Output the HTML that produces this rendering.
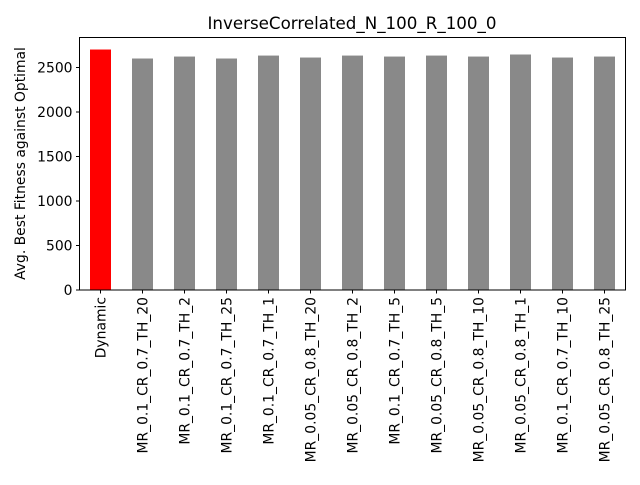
<!DOCTYPE html>
<html><head><meta charset="utf-8"><style>
body{margin:0;background:#fff;}
svg text{font-family:"DejaVu Sans","Liberation Sans",sans-serif;}
</style></head><body>
<svg id="chart" width="640" height="480" xmlns="http://www.w3.org/2000/svg">
<rect width="640" height="480" fill="#fff"/>
<text x="352" y="29" font-size="16.7" text-anchor="middle">InverseCorrelated_N_100_R_100_0</text>
<text transform="translate(25,163.5) rotate(-90)" font-size="13.9" text-anchor="middle">Avg. Best Fitness against Optimal</text>
<g id="bars"></g><g id="yt"></g><g id="xt"></g>
<rect x="79.5" y="37.5" width="546" height="252.5" fill="none" stroke="#000" stroke-width="1"/>
</svg>
<script>
const categories=["Dynamic","MR_0.1_CR_0.7_TH_20","MR_0.1_CR_0.7_TH_2","MR_0.1_CR_0.7_TH_25","MR_0.1_CR_0.7_TH_1","MR_0.05_CR_0.8_TH_20","MR_0.05_CR_0.8_TH_2","MR_0.1_CR_0.7_TH_5","MR_0.05_CR_0.8_TH_5","MR_0.05_CR_0.8_TH_10","MR_0.05_CR_0.8_TH_1","MR_0.1_CR_0.7_TH_10","MR_0.05_CR_0.8_TH_25"];
const values=[2702,2601,2623,2601,2634,2612,2634,2623,2634,2623,2646,2612,2623];
const yTicks=[0,500,1000,1500,2000,2500];
const NS="http://www.w3.org/2000/svg";
const L=79.5,R=625.5,T=37.5,B=290;
const yMax=Math.max(...values)*1.05;
const y=v=>B-(v/yMax)*(B-T);
const step=(R-L)/categories.length;
const x=i=>L+step*(i+0.5);
function mk(t,a,p){const e=document.createElementNS(NS,t);for(const k in a)e.setAttribute(k,a[k]);p.appendChild(e);return e;}
const bars=document.getElementById('bars'),yt=document.getElementById('yt'),xt=document.getElementById('xt');
values.forEach((v,i)=>{
 const r=mk('rect',{x:x(i)-step/4,y:y(v),width:step/2,height:B-y(v),fill:i===0?'#ff0000':'#898989'},bars);
 
 
 const g=mk('g',{},xt);
 
 
 mk('line',{x1:x(i),x2:x(i),y1:B,y2:B+3.5,stroke:'#000'},g);
 const t=mk('text',{transform:`translate(${x(i)+5},${B+7}) rotate(-90)`,'font-size':13.9,'text-anchor':'end'},g);
 t.textContent=categories[i];
});
yTicks.forEach(v=>{
 const g=mk('g',{},yt);
 
 
 mk('line',{x1:L-3.5,x2:L,y1:y(v),y2:y(v),stroke:'#000'},g);
 const t=mk('text',{x:L-7,y:y(v)+5,'font-size':13.9,'text-anchor':'end'},g);
 t.textContent=v;
});
</script>
</body></html>
